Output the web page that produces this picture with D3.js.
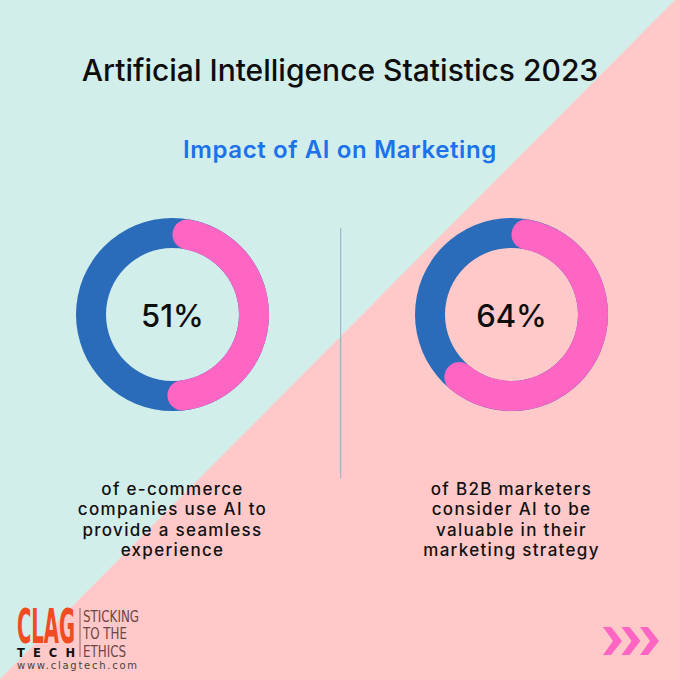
<!DOCTYPE html>
<html>
<head>
<meta charset="utf-8">
<script src="https://cdn.jsdelivr.net/npm/d3@7"></script>
<style>
  html, body { margin: 0; padding: 0; background: #d2eeea; }
  svg { display: block; }
</style>
</head>
<body>
<svg id="chart" width="680" height="680"></svg>
<script>
// chart content
var title = 'Artificial Intelligence Statistics 2023',
    subtitle = 'Impact of AI on Marketing';

var categories = ['e-commerce', 'b2b'],
    values = [51, 64];

var captions = [
    ['of e-commerce', 'companies use AI to', 'provide a seamless', 'experience'],
    ['of B2B marketers', 'consider AI to be', 'valuable in their', 'marketing strategy']
];

var logoWords = ['STICKING', 'TO THE', 'ETHICS'];


var W = 680, H = 680,
    teal = '#d2eeea',
    rose = '#ffc9c9',
    blue = '#2a6cba',
    pink = '#ff66c4',
    outerR = 96.5,
    thickness = 30,
    centerY = 314.5,
    sans = 'Inter, "Open Sans", sans-serif',
    narrow = '"Liberation Sans Narrow", "DejaVu Sans Condensed", sans-serif';

var svg = d3.select('#chart');

// background, split on the diagonal
svg.append('rect')
    .attr('width', W)
    .attr('height', H)
    .attr('fill', teal);

svg.append('path')
    .attr('d', d3.line()([[675, 0], [W, 0], [W, H], [0, H], [0, 679]]) + 'Z')
    .attr('fill', rose);

// headings
svg.append('text')
    .attr('x', 340)
    .attr('y', 81)
    .attr('text-anchor', 'middle')
    .style('font-family', sans)
    .style('font-weight', 500)
    .style('font-size', '30px')
    .attr('fill', '#0d0d0d')
    .text(title);

svg.append('text')
    .attr('x', 340)
    .attr('y', 158)
    .attr('text-anchor', 'middle')
    .style('font-family', sans)
    .style('font-weight', 600)
    .style('font-size', '24px')
    .style('letter-spacing', '0.6px')
    .attr('fill', '#1c72ea')
    .text(subtitle);

// divider
svg.append('line')
    .attr('x1', 340.7).attr('x2', 340.7)
    .attr('y1', 228).attr('y2', 478)
    .attr('stroke', '#94abc9')
    .attr('stroke-width', 1);

// donuts
var x = d3.scalePoint()
    .domain(categories)
    .range([172.5, 511.5]);

var angle = d3.scaleLinear()
    .domain([0, 100])
    .range([0, 2 * Math.PI]);

var ring = d3.arc()
    .innerRadius(outerR - thickness)
    .outerRadius(outerR);

var filled = d3.arc()
    .innerRadius(outerR - thickness)
    .outerRadius(outerR)
    .cornerRadius(thickness / 2);

var donut = svg.selectAll('.donut')
    .data(categories.map(function(c, i) { return { key: c, value: values[i], caption: captions[i] }; }))
    .enter()
    .append('g')
    .attr('class', 'donut')
    .attr('transform', function(d) { return 'translate(' + x(d.key) + ',' + centerY + ')'; });

donut.append('path')
    .attr('fill', blue)
    .attr('d', ring({ startAngle: angle(0), endAngle: angle(100) }));

donut.append('path')
    .attr('fill', pink)
    .attr('d', function(d) { return filled({ startAngle: angle(0), endAngle: angle(d.value) }); });

donut.append('text')
    .attr('y', 12.5)
    .attr('text-anchor', 'middle')
    .style('font-family', sans)
    .style('font-weight', 500)
    .style('font-size', '31px')
    .attr('fill', '#0d0d0d')
    .text(function(d) { return d.value + '%'; });

// captions under each donut
donut.append('text')
    .attr('text-anchor', 'middle')
    .style('font-family', sans)
    .style('font-weight', 500)
    .style('font-size', '17px')
    .style('letter-spacing', '1.3px')
    .attr('fill', '#111')
    .selectAll('tspan')
    .data(function(d) { return d.caption; })
    .enter()
    .append('tspan')
    .attr('x', 0)
    .attr('y', function(d, i) { return 495 - centerY + i * 20.3; })
    .text(function(d) { return d; });

// logo
var logo = svg.append('g').attr('class', 'logo');

logo.append('text')
    .attr('x', 17)
    .attr('y', 643)
    .attr('textLength', 58)
    .attr('lengthAdjust', 'spacingAndGlyphs')
    .style('font-family', narrow)
    .style('font-weight', 700)
    .style('font-size', '48px')
    .attr('fill', '#f04c22')
    .text('CLAG');

logo.append('text')
    .attr('x', 17)
    .attr('y', 657)
    .attr('textLength', 58)
    .attr('lengthAdjust', 'spacing')
    .style('font-family', '"DejaVu Sans", sans-serif')
    .style('font-weight', 700)
    .style('font-size', '11.5px')
    .attr('fill', '#111')
    .text('TECH');

logo.append('line')
    .attr('x1', 80).attr('x2', 80)
    .attr('y1', 608).attr('y2', 657)
    .attr('stroke', '#6b4a4a')
    .attr('stroke-width', 0.8);

var motto = logo.append('g')
    .attr('transform', 'translate(83,0)');

motto.selectAll('.motto')
    .data(logoWords)
    .enter()
    .append('text')
    .attr('class', 'motto')
    .attr('y', function(d, i) { return 622 + i * 17.5; })
    .style('font-family', narrow)
    .style('font-weight', 400)
    .style('font-size', '16.5px')
    .attr('fill', '#6b4646')
    .text(function(d) { return d; });

// squeeze the motto to the width of its first word
var widest = d3.max(motto.selectAll('.motto').nodes(), function(n) { return n.getComputedTextLength(); });
motto.selectAll('.motto')
    .attr('transform', 'scale(' + (56 / widest) + ',1)');

logo.append('text')
    .attr('x', 17)
    .attr('y', 669)
    .attr('textLength', 120)
    .attr('lengthAdjust', 'spacing')
    .style('font-family', '"DejaVu Sans", sans-serif')
    .style('font-size', '10px')
    .attr('fill', '#444')
    .text('www.clagtech.com');

// chevrons, bottom right
var chevron = d3.line();
svg.append('g')
    .selectAll('path')
    .data(d3.range(3))
    .enter()
    .append('path')
    .attr('transform', function(i) { return 'translate(' + (603 + i * 18.5) + ',627)'; })
    .attr('d', chevron([[0, 0], [8, 0], [19, 14], [8, 28], [0, 28], [10, 14]]) + 'Z')
    .attr('fill', pink);
</script>
</body>
</html>
